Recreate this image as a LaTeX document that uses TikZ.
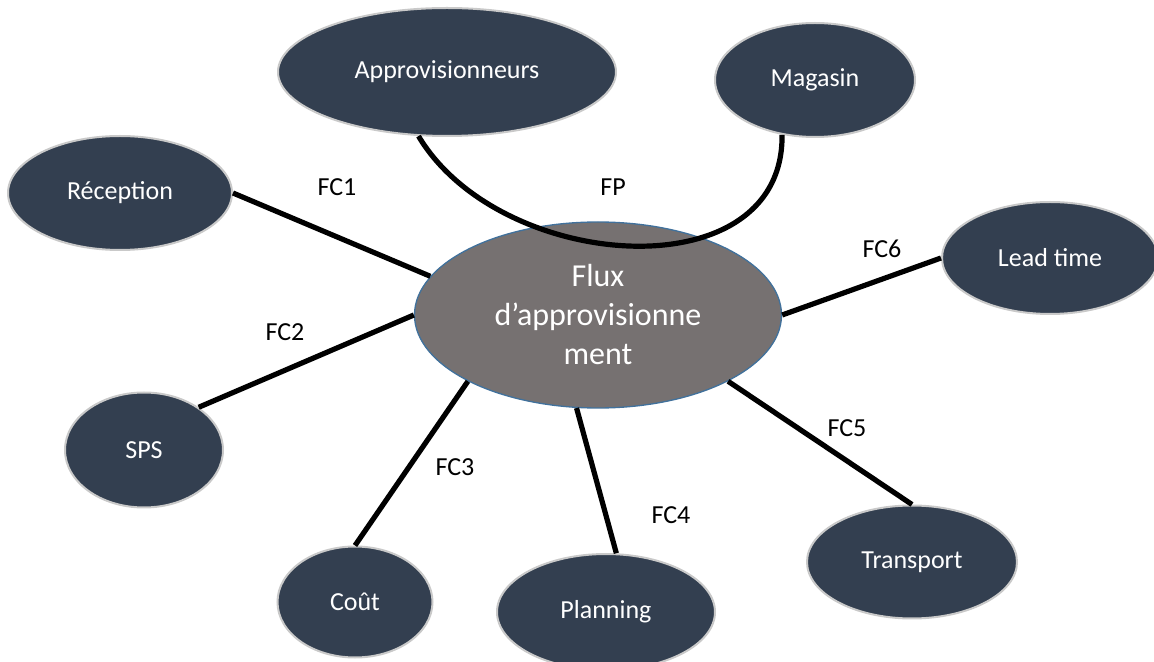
\documentclass[tikz,border=0pt]{standalone}
\usepackage{fontspec}
\setmainfont{Carlito}
\usepackage{tikz}
\usetikzlibrary{shapes.geometric}

\definecolor{bleunuit}{HTML}{333F50}
\definecolor{grisbord}{HTML}{C9C9C9}
\definecolor{gristete}{HTML}{767171}
\definecolor{bordbleu}{HTML}{41719C}

\begin{document}
\begin{tikzpicture}[x=0.75pt,y=0.75pt,
	bulle/.style={ellipse, fill=bleunuit, draw=grisbord, line width=1.5pt, text=white, inner sep=0pt, font=\fontsize{19.5}{23}\selectfont},
	lien/.style={line width=3.9pt},
	etiq/.style={font=\fontsize{19.5}{23}\selectfont}]
	\useasboundingbox (0,0) rectangle (1154,661);

	\node[ellipse, fill=gristete, draw=bordbleu, line width=1pt, text=white, align=center, minimum width=275.25pt, minimum height=139.5pt, font=\fontsize{24}{29.25}\selectfont] (central) at (598,346) {Flux\\d’approvisionne\\ment};
	\node[bulle, minimum width=253.5pt, minimum height=96pt] (appro) at (447,589) {Approvisionneurs};
	\node[bulle, minimum width=150pt, minimum height=85.5pt] (magasin) at (815,581) {Magasin};
	\node[bulle, minimum width=168pt, minimum height=85.5pt] (reception) at (120,468) {Réception};
	\node[bulle, minimum width=118.5pt, minimum height=86.25pt] (sps) at (144,211) {SPS};
	\node[bulle, minimum width=116.25pt, minimum height=83.25pt] (cout) at (355,59) {Coût};
	\node[bulle, minimum width=163.5pt, minimum height=87pt] (planning) at (606,49) {Planning};
	\node[bulle, minimum width=157.5pt, minimum height=84.75pt] (transport) at (912,99) {Transport};
	\node[bulle, minimum width=162pt, minimum height=84pt] (leadtime) at (1050,403) {Lead time};

	% fonction principale
	\draw[lien] (appro.246) .. controls (500,388) and (784,368) .. (magasin.239);
	% fonctions contraintes
	\draw[lien] (reception.east) -- (central.167);
	\draw[lien] (sps.38) -- (central.west);
	\draw[lien] (cout.north) -- (central.207);
	\draw[lien] (planning.80) -- (central.257);
	\draw[lien] (transport.north) -- (central.333);
	\draw[lien] (leadtime.west) -- (central.east);

	% etiquettes
	\node[etiq] (fp) at (613,474) {FP};
	\node[etiq] (fc1) at (337,474) {FC1};
	\node[etiq] (fc2) at (285,329) {FC2};
	\node[etiq] (fc3) at (455,194) {FC3};
	\node[etiq] (fc4) at (671,146) {FC4};
	\node[etiq] (fc5) at (847,233) {FC5};
	\node[etiq] (fc6) at (882,412) {FC6};
\end{tikzpicture}
\end{document}
